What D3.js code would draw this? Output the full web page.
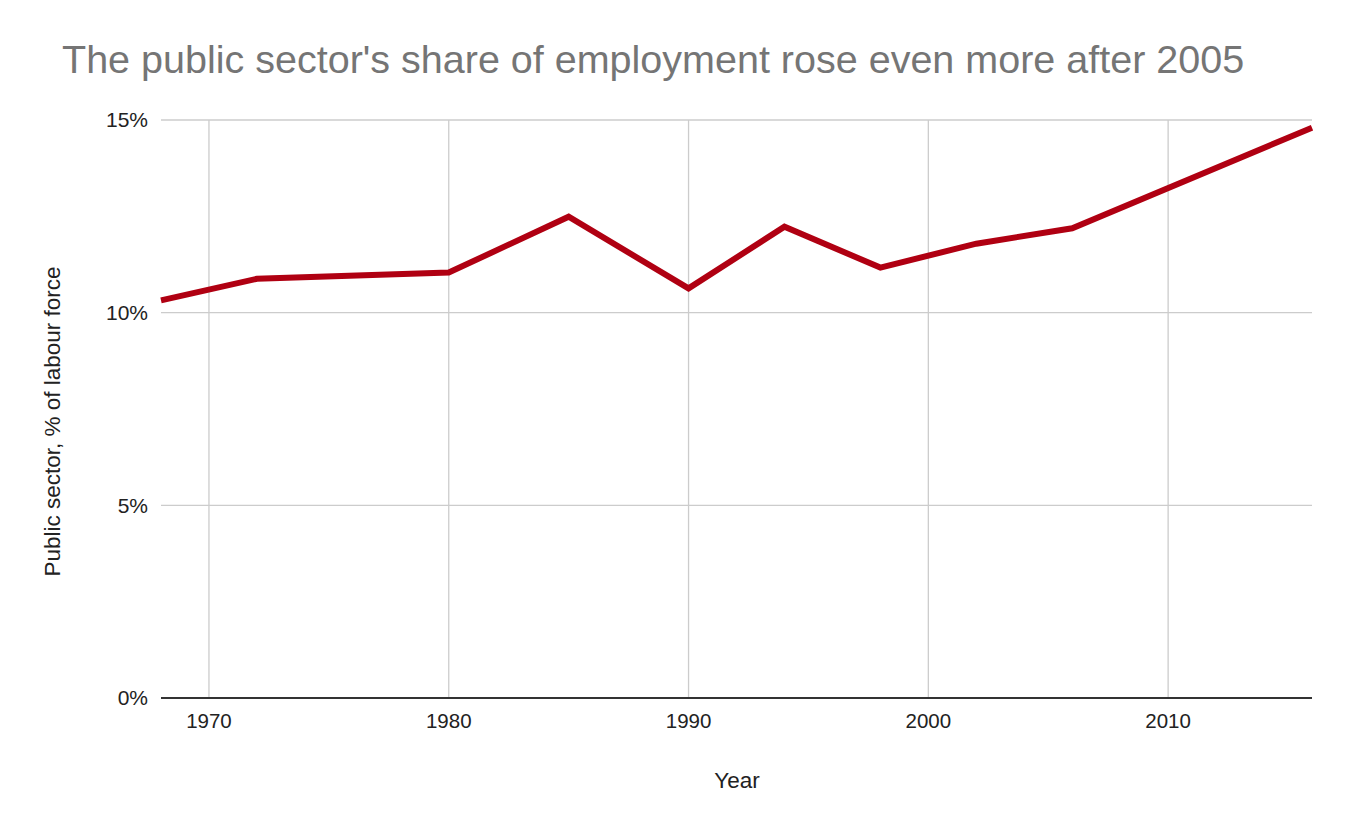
<!DOCTYPE html>
<html><head><meta charset="utf-8">
<script src="https://cdn.jsdelivr.net/npm/d3@7"></script>
<style>body{margin:0;background:#fff;} text{font-family:"Liberation Sans",Arial,sans-serif;}</style>
</head><body>
<svg id="chart" width="1353" height="836"></svg>
<script>
const years = [1968, 1972, 1980, 1985, 1990, 1994, 1998, 2002, 2006, 2016];
const share = [10.32, 10.88, 11.04, 12.49, 10.63, 12.23, 11.17, 11.79, 12.19, 14.80];
const xTicks = [1970, 1980, 1990, 2000, 2010];
const yTicks = [0, 5, 10, 15];
const title = "The public sector's share of employment rose even more after 2005";
const xLabel = "Year";
const yLabel = "Public sector, % of labour force";

const svg = d3.select("#chart");
const m = {left:161, right:1312, top:120, bottom:698};
const x = d3.scaleLinear().domain([1968, 2016]).range([m.left, m.right]);
const y = d3.scaleLinear().domain([0, 15]).range([m.bottom, m.top]);

svg.append("text").attr("x", 62).attr("y", 73).attr("font-size", 39.5).attr("fill", "#757575").text(title);

// vertical grid
svg.append("g").selectAll("line").data(xTicks).join("line")
  .attr("x1", d => x(d)).attr("x2", d => x(d)).attr("y1", m.top).attr("y2", m.bottom)
  .attr("stroke", "#cccccc").attr("stroke-width", 1.3);
// horizontal grid
svg.append("g").selectAll("line").data(yTicks.filter(d => d > 0)).join("line")
  .attr("x1", m.left).attr("x2", m.right).attr("y1", d => y(d)).attr("y2", d => y(d))
  .attr("stroke", "#cccccc").attr("stroke-width", 1.3);

// y tick labels
svg.append("g").selectAll("text").data(yTicks).join("text")
  .attr("x", 148).attr("y", d => y(d)).attr("dy", "0.35em").attr("text-anchor", "end")
  .attr("font-size", 21).attr("fill", "#222").text(d => d + "%");
// x tick labels
svg.append("g").selectAll("text").data(xTicks).join("text")
  .attr("x", d => x(d)).attr("y", 721).attr("dy", "0.35em").attr("text-anchor", "middle")
  .attr("font-size", 20.5).attr("fill", "#222").text(d => d);

// baseline
svg.append("line").attr("x1", m.left).attr("x2", m.right).attr("y1", y(0)).attr("y2", y(0))
  .attr("stroke", "#333").attr("stroke-width", 2);

// line
const line = d3.line().x((d, i) => x(years[i])).y(d => y(d));
svg.append("path").datum(share).attr("d", line).attr("fill", "none")
  .attr("stroke", "#b00012").attr("stroke-width", 6).attr("stroke-linejoin", "miter");

// axis titles
svg.append("text").attr("x", 737).attr("y", 788).attr("text-anchor", "middle")
  .attr("font-size", 22.5).attr("fill", "#222").text(xLabel);
svg.append("text").attr("transform", "translate(52,421.5) rotate(-90)").attr("dy", "0.35em")
  .attr("text-anchor", "middle").attr("font-size", 22.5).attr("fill", "#222").text(yLabel);
</script>
</body></html>
